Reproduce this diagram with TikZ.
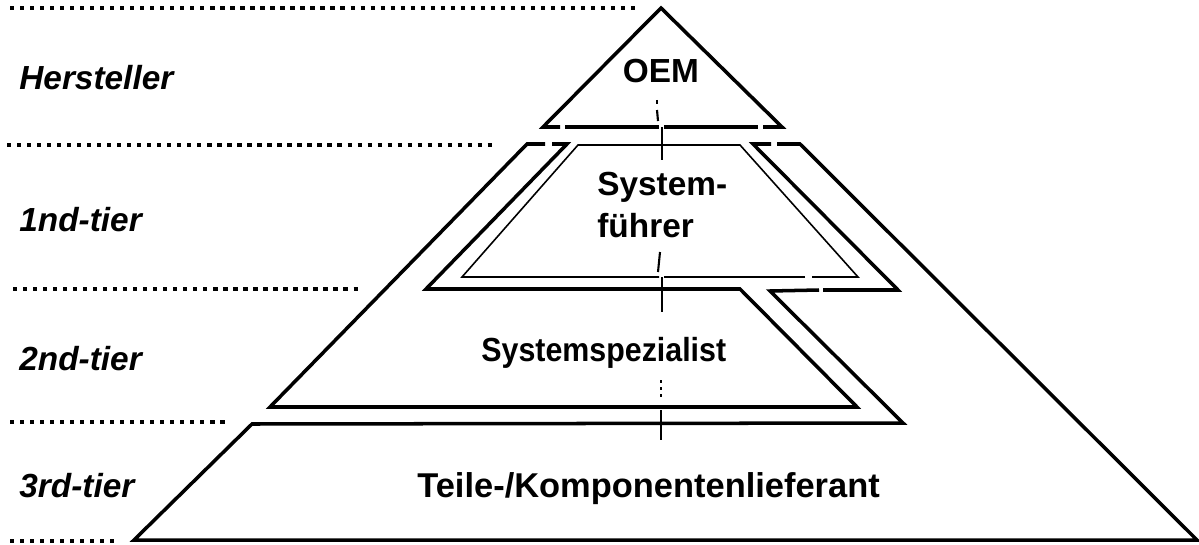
\documentclass[tikz,border=0pt]{standalone}
\usepackage{fontspec}
\setmainfont{Liberation Sans}
\newfontfamily\narrowsans[FakeStretch=0.91]{Liberation Sans}
\begin{document}
\begin{tikzpicture}[x=0.02cm,y=-0.02cm,
  thickln/.style={line width=2pt, line join=miter, line cap=butt},
  thinln/.style={line width=0.9pt},
  dotln/.style={line width=2pt, dash pattern=on 2.4pt off 3.3pt},
  axisln/.style={line width=1.2pt},
  tierlabel/.style={font=\bfseries\itshape\fontsize{19}{22}\selectfont, anchor=base west, inner sep=0pt},
  boxlabel/.style={font=\bfseries\fontsize{19}{22}\selectfont, inner sep=0pt}]
\useasboundingbox (0,0) rectangle (1199,544);
% dotted level lines
\draw[dotln] (10,8) -- (637,8);
\draw[dotln] (7,145) -- (493,145);
\draw[dotln] (13,289) -- (362,289);
\draw[dotln] (10,422) -- (230,422);
\draw[dotln] (10,541) -- (118,541);
% tier labels
\node[tierlabel] (lh) at (19,90) {Hersteller};
\node[tierlabel] (l1) at (19,231) {1nd-tier};
\node[tierlabel] (l2) at (19,370) {2nd-tier};
\node[tierlabel] (l3) at (19,497) {3rd-tier};
% OEM triangle
\coordinate (oA) at (661,8);
\coordinate (oL) at (543,127);
\coordinate (oR) at (782,127);
\draw[thickln] (560,127) -- (oL) -- (oA) -- (oR) -- (763,127);
\draw[thickln] (565,127) -- (659,127);
\draw[thickln] (664,127) -- (758,127);
% Systemfuehrer thin trapezoid
\draw[thinln] (659,277) -- (462,277) -- (578,145) -- (740,145) -- (858,277) -- (812,277);
\draw[thinln] (805,277) -- (664,277);
% left channel + Systemspezialist
\draw[thickln] (545,144) -- (527,144) -- (270,407) -- (857,407) -- (740,289) -- (426,289) -- (567,144) -- (552,144);
% right channel + Teile-/Komponentenlieferant
\draw[thickln] (771,144) -- (753,144) -- (898,290) -- (823,290);
\draw[thickln] (819,290) -- (770,291) -- (903,423) -- (252,424) -- (134,540) -- (1197,540) -- (800,144) -- (777,144);
% centre axis
\draw[axisln] (657,100) -- (657,104);
\draw[axisln] (657,110) -- (658,121);
\draw[axisln] (662,127) -- (662,160);
\draw[axisln] (660,252) -- (658,272);
\draw[axisln] (662,277) -- (662,312);
\draw[axisln, dash pattern=on 1.5pt off 2.5pt] (661,380) -- (661,400);
\draw[axisln] (661,410) -- (661,440);
% texts
\node[boxlabel, anchor=base] (oem) at (661,83) {OEM};
\node[boxlabel, anchor=base west] (sf1) at (597,195) {System-};
\node[boxlabel, anchor=base west] (sf2) at (597,237) {führer};
\node[boxlabel, anchor=base west, font=\narrowsans\bfseries\fontsize{19}{22}\selectfont] (ss) at (481,361) {Systemspezialist};
\node[boxlabel, anchor=base west, font=\bfseries\fontsize{19.6}{23}\selectfont] (tk) at (417,497) {Teile-/Komponentenlieferant};
\end{tikzpicture}
\end{document}
